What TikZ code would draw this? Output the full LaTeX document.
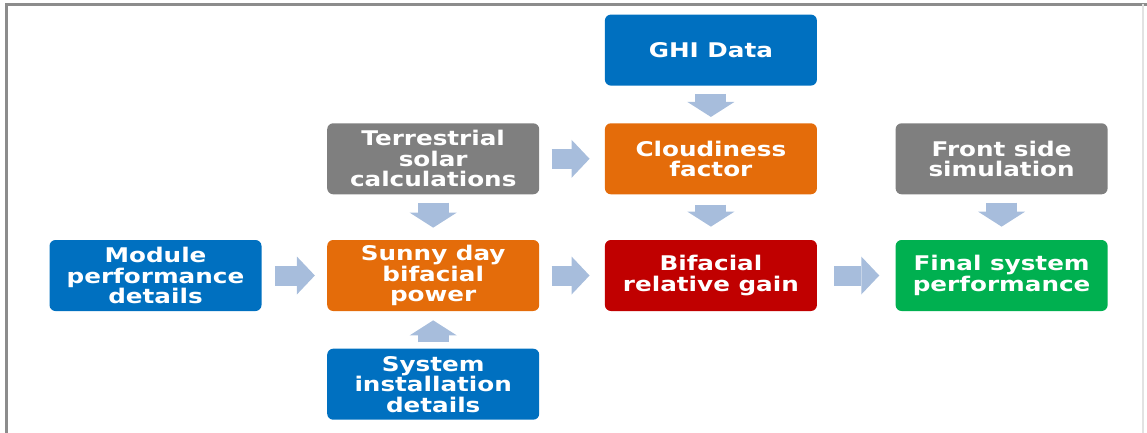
\documentclass[tikz,border=0pt]{standalone}
\usepackage{fontspec}
\newfontfamily\boxfont{DejaVu Sans}[FakeStretch=1.22]
\usetikzlibrary{arrows.meta,positioning}
\definecolor{pvblue}{RGB}{0,112,192}
\definecolor{pvorange}{RGB}{228,108,10}
\definecolor{pvgray}{RGB}{127,127,127}
\definecolor{pvred}{RGB}{192,0,0}
\definecolor{pvgreen}{RGB}{0,176,80}
\definecolor{pvarrow}{RGB}{167,189,220}
\definecolor{pvframe}{RGB}{140,140,140}

\begin{document}
\begin{tikzpicture}[node distance=1.3cm,
    box/.style={rounded corners=0.12cm,minimum width=4.24cm,minimum height=1.42cm,inner sep=2pt,
      text=white,align=center,font=\boxfont\bfseries\fontsize{11.5}{11.7}\selectfont},
    hflow/.style={draw=pvarrow,line width=0.4cm,-{Triangle[length=0.36cm,width=0.76cm,line width=0pt]}},
    vflow/.style={draw=pvarrow,line width=0.62cm,-{Triangle[length=0.3cm,width=0.94cm,line width=0pt]}}]
    \useasboundingbox (0,0) rectangle (22.94,-8.66);
    \draw[pvframe,line width=1.5pt] (0.13,-8.66) |- (22.94,-0.09);
    \draw[pvframe!25,line width=0.8pt] (22.86,-0.09) -- (22.86,-8.66);
    % boxes
    \node[box,fill=pvblue] (mod) at (3.11,-5.51) {Module\\performance\\details};
    \node[box,fill=pvorange,right=of mod] (sunny) {Sunny day\\bifacial\\power};
    \node[box,fill=pvgray,above=0.9cm of sunny] (terr) {Terrestrial\\solar\\calculations};
    \node[box,fill=pvblue,below=0.74cm of sunny] (sys) {System\\installation\\details};
    \node[box,fill=pvred,right=of sunny] (gain) {Bifacial\\relative gain};
    \node[box,fill=pvorange,above=0.9cm of gain] (cloud) {Cloudiness\\factor};
    \node[box,fill=pvblue,above=0.74cm of cloud] (ghi) {GHI Data};
    \node[box,fill=pvgreen,right=1.56cm of gain] (final) {Final system\\performance};
    \node[box,fill=pvgray,above=0.9cm of final] (front) {Front side\\simulation};
    % block arrows
    \draw[hflow,shorten <=0.26cm,shorten >=0.24cm] (mod) -- (sunny);
    \draw[hflow,shorten <=0.24cm,shorten >=0.3cm] (sunny) -- (gain);
    \draw[hflow,shorten <=0.24cm,shorten >=0.3cm] (terr) -- (cloud);
    \draw[hflow,shorten <=0.34cm,shorten >=0.32cm] (gain) -- (final);
    \draw[vflow,shorten <=0.16cm,shorten >=0.24cm] (terr) -- (sunny);
    \draw[vflow,shorten <=0.16cm,shorten >=0.12cm] (ghi) -- (cloud);
    \draw[vflow,shorten <=0.2cm,shorten >=0.26cm] (cloud) -- (gain);
    \draw[vflow,shorten <=0.16cm,shorten >=0.26cm] (front) -- (final);
    \draw[vflow,shorten <=0.12cm,shorten >=0.18cm] (sys) -- (sunny);
  \end{tikzpicture}
\end{document}
